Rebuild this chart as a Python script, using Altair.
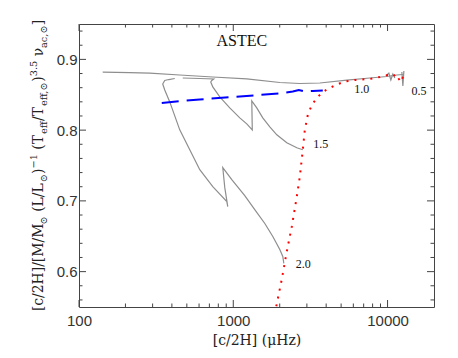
import altair as alt
import pandas as pd

# ---------------- data ----------------
# 2.0 Msun track (nu in microHz, ratio)
t20_nu = [2126, 2094, 2002, 1804, 1601, 1378, 1187, 978, 855, 881, 921, 908, 736.5, 606.5,
          522.3, 449.8, 387.6, 359.6, 348.9, 359.6, 381.8, 417.5]
t20_r = [0.6117, 0.6215, 0.6314, 0.6497, 0.668, 0.6877, 0.7075, 0.73, 0.7469, 0.7187, 0.692,
         0.699, 0.7201, 0.7441, 0.7723, 0.8004, 0.8399, 0.8568, 0.8652, 0.8701, 0.8715, 0.873]
# 1.5 Msun track
t15_nu = [2823, 2581, 2223, 1915, 1725, 1553, 1420, 1318, 1328, 1223, 1102, 949, 817.5, 736.5,
          714.7, 725.4, 747.4, 606.5, 470.4]
t15_r = [0.7723, 0.7751, 0.7821, 0.7934, 0.8046, 0.8173, 0.8314, 0.8413, 0.8004, 0.8089, 0.8173,
         0.8314, 0.8469, 0.861, 0.868, 0.8701, 0.8723, 0.873, 0.8737]
# long upper track
top_nu = [142.5, 213.2, 287.4, 449.8, 736.5, 1223, 2002, 2700, 3639, 5446, 7676, 9897, 11490, 12570]
top_r = [0.882, 0.8814, 0.8807, 0.8779, 0.8751, 0.8723, 0.8673, 0.8659, 0.8666, 0.8708, 0.8737,
         0.8758, 0.8779, 0.8786]
# small wiggles near the 1.0 and 0.5 Msun ends
s10_nu = [9750, 10195, 10505, 10825, 11150]
s10_r = [0.8765, 0.8807, 0.8708, 0.8793, 0.8737]
s05_nu = [12380, 12570, 12757, 12570]
s05_r = [0.8821, 0.8624, 0.8835, 0.8652]
# blue dashed line
bl_nu = [343.9, 606.5, 1102, 2002, 2431, 2659, 2909, 3278, 3805]
bl_r = [0.8385, 0.8434, 0.8476, 0.8518, 0.8546, 0.8568, 0.8546, 0.8554, 0.8561]
# red dotted line
red_nu = [1900, 2063, 2223, 2395, 2581, 2700, 2823, 2909, 3041, 3229, 3479, 3805, 4225, 4690,
          5285, 6137, 7676, 8915, 10045, 10825, 11320, 11840, 12200, 12570]
red_r = [0.551, 0.5892, 0.6286, 0.6638, 0.7061, 0.7342, 0.7723, 0.8004, 0.8215, 0.8356, 0.8455,
         0.8539, 0.8596, 0.8645, 0.8687, 0.8708, 0.8723, 0.8751, 0.8779, 0.8758, 0.8793, 0.8723,
         0.868, 0.8751]
# mass labels
lab_text = ["1.0", "0.5", "1.5", "2.0"]
lab_nu = [6813, 15960, 3694, 2844]
lab_r = [0.8575, 0.8554, 0.78, 0.611]
# title inside plot
code_text = ["ASTEC"]
code_nu = [1135]
code_r = [0.9258]
# axis ticks
x_major = [100, 1000, 10000]
x_minor = [200, 300, 400, 500, 600, 700, 800, 900, 2000, 3000, 4000, 5000, 6000, 7000, 8000, 9000]
y_major = [0.6, 0.7, 0.8, 0.9]
y_minor = [0.56, 0.58, 0.62, 0.64, 0.66, 0.68, 0.72, 0.74, 0.76, 0.78, 0.82, 0.84, 0.86, 0.88,
           0.92, 0.94]

# ---------------- chart ----------------
W, H = 355, 283
FRAME = "#444444"
GRAY = "#8e8e8e"

xs = alt.Scale(type="log", domain=[100, 20000], nice=False)
ys = alt.Scale(domain=[0.55, 0.95], nice=False, zero=False)
xa = alt.Axis(values=x_major, format="d", labelFont="Liberation Sans", labelFontSize=15,
              labelColor="#333333", labelPadding=6, labelFlush=False, labelOverlap=False,
              ticks=False, tickSize=0, domain=False, grid=False,
              title="[c/2H] (μHz)", titleFont="DejaVu Serif", titleFontSize=14,
              titleFontWeight="normal", titleColor="#222222", titleY=37,
              titleBaseline="alphabetic")
ya = alt.Axis(values=y_major, format=".1f", labelFont="Liberation Sans", labelFontSize=15,
              labelColor="#333333", labelPadding=2, labelOverlap=False,
              ticks=False, tickSize=0, domain=False, grid=False, title=None)
X = alt.X("nu:Q", scale=xs, axis=xa)
Y = alt.Y("r:Q", scale=ys, axis=ya)


def track_df(name, nu, r):
    return pd.DataFrame({"nu": nu, "r": r, "track": name, "i": list(range(len(nu)))})


gray_df = pd.concat([
    track_df("2.0", t20_nu, t20_r),
    track_df("1.5", t15_nu, t15_r),
    track_df("top", top_nu, top_r),
    track_df("w10", s10_nu, s10_r),
    track_df("w05", s05_nu, s05_r),
], ignore_index=True)

gray = alt.Chart(gray_df).mark_line(color=GRAY, strokeWidth=1.2, clip=True).encode(
    x=X, y=Y, detail="track:N", order="i:Q")
blue = alt.Chart(track_df("blue", bl_nu, bl_r)).mark_line(
    color="#0000ff", strokeWidth=2, strokeDash=[17, 8], clip=True).encode(x=X, y=Y, order="i:Q")
red = alt.Chart(track_df("red", red_nu, red_r)).mark_line(
    color="#ff0000", strokeWidth=2, strokeDash=[2, 6], clip=True).encode(x=X, y=Y, order="i:Q")

labels = alt.Chart(pd.DataFrame({"nu": lab_nu, "r": lab_r, "t": lab_text})).mark_text(
    font="Liberation Serif", fontSize=12, color="#111111", align="center", baseline="middle"
).encode(x=X, y=Y, text="t:N")
astec = alt.Chart(pd.DataFrame({"nu": code_nu, "r": code_r, "t": code_text})).mark_text(
    font="Liberation Serif", fontSize=16, color="#111111", align="center", baseline="middle"
).encode(x=X, y=Y, text="t:N")

tick_layers = []
for vals, ln in ((x_major, 7), (x_minor, 3.5)):
    d = pd.DataFrame({"nu": vals})
    tick_layers.append(alt.Chart(d).mark_rule(color=FRAME, strokeWidth=1).encode(
        x=X, y=alt.value(H), y2=alt.value(H - ln)))
    tick_layers.append(alt.Chart(d).mark_rule(color=FRAME, strokeWidth=1).encode(
        x=X, y=alt.value(0), y2=alt.value(ln)))
for vals, ln in ((y_major, 7), (y_minor, 3.5)):
    d = pd.DataFrame({"r": vals})
    tick_layers.append(alt.Chart(d).mark_rule(color=FRAME, strokeWidth=1).encode(
        y=Y, x=alt.value(0), x2=alt.value(ln)))
    tick_layers.append(alt.Chart(d).mark_rule(color=FRAME, strokeWidth=1).encode(
        y=Y, x=alt.value(W), x2=alt.value(W - ln)))

# ---------------- rotated y-axis title with sub/superscripts ----------------
DVS = {'[': 0.39, ']': 0.39, 'c': 0.56, '/': 0.337, '2': 0.636, 'H': 0.856, 'M': 1.0, ' ': 0.318,
       '(': 0.39, ')': 0.39, 'L': 0.704, 'T': 0.733, 'e': 0.592, 'f': 0.37, ',': 0.318,
       'ν': 0.6, 'a': 0.596, '−': 0.838, '1': 0.636, '3': 0.636, '.': 0.318, '5': 0.636,
       '⊙': 0.838}


def wid(s, size):
    return sum(DVS.get(ch, 0.6) for ch in s) * size


MAIN, SMALL = 13.9, 9.8
pieces = [("[c/2H]/[M/M", "main"), ("⊙", "sub"), (" (L/L", "main"), ("⊙", "sub"),
          (")", "main"), ("−1", "sup"), (" (T", "main"), ("eff", "sub"), ("/T", "main"),
          ("eff,⊙", "sub"), (")", "main"), ("3.5", "sup"), (" ν", "main"), ("ac,⊙", "sub"),
          ("]", "main")]
base_x = {"main": -36, "sub": -32.5, "sup": -42.5}
total = sum(wid(t, MAIN if k == "main" else SMALL) for t, k in pieces)
cur = H / 2 + total / 2
title_layers = []
for t, k in pieces:
    size = MAIN if k == "main" else SMALL
    s = t.lstrip()
    cur -= (len(t) - len(s)) * DVS[' '] * size
    title_layers.append(
        alt.Chart(pd.DataFrame({"t": [s]})).mark_text(
            angle=270, align="left", baseline="alphabetic", font="DejaVu Serif",
            fontSize=size, color="#222222"
        ).encode(text="t:N", x=alt.value(base_x[k]), y=alt.value(cur)))
    cur -= wid(s, size)

chart = alt.layer(gray, blue, red, labels, astec, *tick_layers, *title_layers).properties(
    width=W, height=H,
    autosize=alt.AutoSizeParams(type="none"),
    padding={"left": 71, "top": 16, "right": 16, "bottom": 43},
).configure_view(stroke=FRAME, strokeWidth=1).configure_axis(grid=False)

chart.save("out.html", embed_options={"renderer": "svg", "actions": False})
